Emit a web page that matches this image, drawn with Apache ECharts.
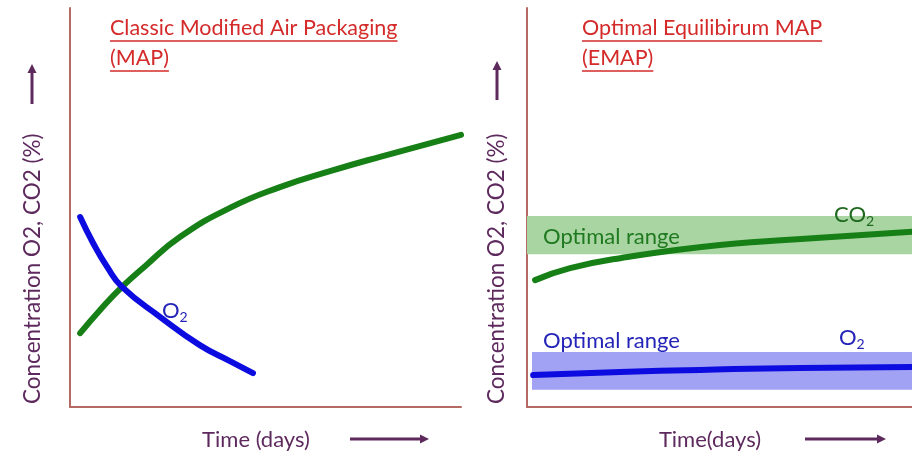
<!DOCTYPE html>
<html>
<head>
<meta charset="utf-8">
<script src="https://cdn.jsdelivr.net/npm/echarts@6/dist/echarts.min.js"></script>
<style>
  html, body { margin: 0; padding: 0; background: #fff; }
  #chart_1 { width: 912px; height: 455px; }
</style>
</head>
<body>
<div id="chart_1"></div>
<script>
// left panel: classic MAP (x = time %, y = concentration %)
var mapCO2 = [[2.6, 18.5], [7.7, 24.3], [13.3, 30.1], [19.2, 35.3], [28.1, 42.6], [40.9, 49.9], [53.7, 55.1], [66.5, 59.1], [79.3, 62.7], [100, 68.2]];
var mapO2 = [[2.6, 47.6], [5.9, 41.1], [9.5, 35.1], [13.3, 30.1], [23.0, 22.6], [33.2, 15.5], [40.9, 11.5], [46.8, 8.5]];

// right panel: equilibrium MAP
var emapCO2 = [[2.1, 31.8], [11.2, 34.8], [24.2, 37.3], [50.1, 40.6], [76.1, 42.4], [100, 43.9]];
var emapO2 = [[1.6, 8.0], [24.2, 8.8], [44.9, 9.3], [70.9, 9.8], [100, 10.0]];
var co2Range = [38.3, 47.9];
var o2Range = [4.3, 13.8];

var green = '#168016';
var blue = '#0c0ce0';
var axisRed = '#b46a62';
var titleRed = '#d42a2a';
var purple = '#5e2a5e';
var font = 'Lato';
var fs = 22;

var measure = document.createElement('canvas').getContext('2d');
function textWidth(s, f) {
	measure.font = f;
	return measure.measureText(s).width;
}

function arrow(x1, y1, x2, y2) {
	// purple arrow line with head at (x2, y2)
	var dx = x2 - x1, dy = y2 - y1;
	var len = Math.sqrt(dx * dx + dy * dy);
	var ux = dx / len, uy = dy / len;
	var hx = x2 - ux * 9, hy = y2 - uy * 9;
	return [{
		type: 'line', z: 100,
		shape: { x1: x1, y1: y1, x2: hx, y2: hy },
		style: { stroke: purple, lineWidth: 3 }
	}, {
		type: 'polygon', z: 100,
		shape: { points: [[x2, y2], [hx - uy * 4.5, hy + ux * 4.5], [hx + uy * 4.5, hy - ux * 4.5]] },
		style: { fill: purple }
	}];
}

function title(x, lines) {
	var out = [];
	var f = '21.5px ' + font;
	for (var i = 0; i < lines.length; i++) {
		var w = textWidth(lines[i], f);
		out.push({
			type: 'text', x: x, y: 39 + i * 30, z: 100,
			style: { text: lines[i], fill: titleRed, font: f, verticalAlign: 'bottom' }
		});
		out.push({
			type: 'line', z: 100,
			shape: { x1: x, y1: 41 + i * 30, x2: x + w, y2: 41 + i * 30 },
			style: { stroke: titleRed, lineWidth: 1.5 }
		});
	}
	return out;
}

function txt(x, y, s, color, extra) {
	var st = { text: s, fill: color, font: fs + 'px ' + font, verticalAlign: 'middle' };
	for (var k in extra) st[k] = extra[k];
	return { type: 'text', x: x, y: y, z: 100, style: st };
}

function sub(x, y, base, color) {
	return {
		type: 'text', x: x, y: y, z: 100,
		style: {
			text: '{a|' + base + '}{s|2}',
			verticalAlign: 'middle',
			rich: {
				a: { fill: color, font: fs + 'px ' + font },
				s: { fill: color, font: '14px ' + font, padding: [12, 0, 0, 0] }
			}
		}
	};
}

function yLabel(x) {
	var t = txt(x, 404, 'Concentration O2, CO2 (%)', purple, { align: 'left', font: '22.5px ' + font });
	t.rotation = Math.PI / 2;
	return t;
}

var graphics = []
	.concat(title(110, ['Classic Modified Air Packaging', '(MAP)']))
	.concat(title(582, ['Optimal Equilibirum MAP', '(EMAP)']))
	.concat(arrow(32, 104, 32, 64))
	.concat(arrow(497, 100, 497, 61))
	.concat(arrow(350, 439, 429, 439))
	.concat(arrow(805, 439, 886, 439))
	.concat([
		yLabel(33),
		yLabel(497),
		txt(256, 440, 'Time (days)', purple, { align: 'center' }),
		txt(710, 440, 'Time(days)', purple, { align: 'center' }),
		txt(543, 237, 'Optimal range', '#1f7a1f'),
		txt(543, 341, 'Optimal range', '#2424b8'),
		sub(162, 311, 'O', '#2424b8'),
		sub(834, 215, 'CO', '#1f6a1f'),
		sub(839, 338, 'O', '#2424b8')
	]);

function yAx(idx) {
	return {
		gridIndex: idx, type: 'value', min: 0, max: 100,
		axisLine: { show: true, lineStyle: { color: axisRed, width: 2 } },
		axisTick: { show: false }, axisLabel: { show: false }, splitLine: { show: false }
	};
}

function xAx(idx) {
	return {
		gridIndex: idx, type: 'value', min: 0, max: 100,
		axisLine: { show: true, onZero: false, lineStyle: { color: axisRed, width: 2 } },
		axisTick: { show: false }, axisLabel: { show: false }, splitLine: { show: false }
	};
}

function curve(idx, data, color) {
	return {
		type: 'line', xAxisIndex: idx, yAxisIndex: idx, data: data,
		smooth: 0.5, showSymbol: false, silent: true, z: 3,
		lineStyle: { color: color, width: 6, cap: 'round' }
	};
}

var myChart = echarts.init(document.getElementById('chart_1'));
var co2Line = curve(1, emapCO2, green);
co2Line.markArea = {
	silent: true,
	itemStyle: { color: '#a9d5a3' },
	data: [[{ xAxis: 0, yAxis: co2Range[0] }, { xAxis: 100, yAxis: co2Range[1] }]]
};
var o2Line = curve(1, emapO2, blue);
o2Line.markArea = {
	silent: true,
	itemStyle: { color: '#a2a2f4' },
	data: [[{ xAxis: 1.3, yAxis: o2Range[0] }, { xAxis: 100, yAxis: o2Range[1] }]]
};

var option = {
	backgroundColor: '#fff',
	animation: false,
	grid: [
		{ left: 70, top: 8, width: 391, height: 399 },
		{ left: 527, top: 8, width: 385, height: 399 }
	],
	xAxis: [xAx(0), xAx(1)],
	yAxis: [yAx(0), yAx(1)],
	series: [
		curve(0, mapCO2, green),
		curve(0, mapO2, blue),
		co2Line,
		o2Line
	],
	graphic: graphics
};
myChart.setOption(option);
</script>
</body>
</html>
